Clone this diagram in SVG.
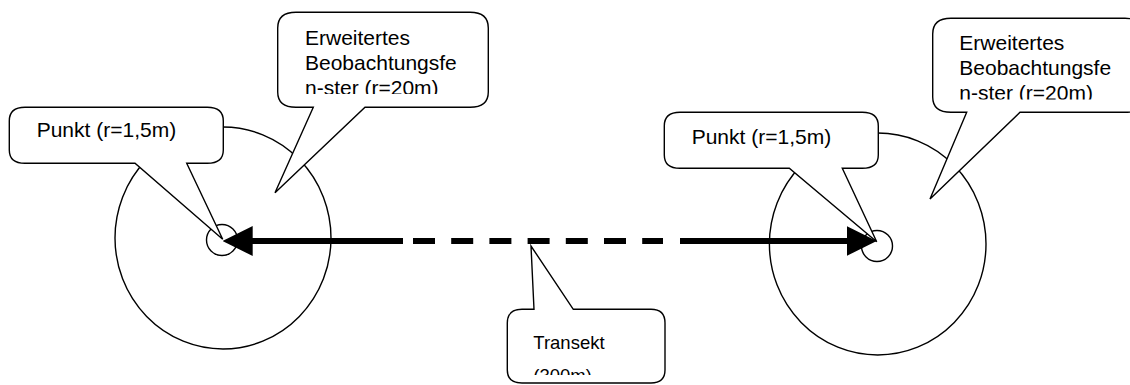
<svg xmlns="http://www.w3.org/2000/svg" width="1130" height="385" viewBox="0 0 1130 385">
  <style>
    .ring { fill: #ffffff; stroke: #000000; stroke-width: 1.4; }
    .callout { fill: #ffffff; stroke: #000000; stroke-width: 1.4; }
    .label { font-family: "Liberation Sans", Arial, sans-serif; font-size: 21px; fill: #000000; }
    .label-small { font-family: "Liberation Sans", Arial, sans-serif; font-size: 18.5px; fill: #000000; }
    .track { stroke: #000000; stroke-width: 6; fill: none; }
    .track-dash { stroke: #000000; stroke-width: 6; fill: none; stroke-dasharray: 22 16.2; }
  </style>
  <defs>
    <marker id="head" markerUnits="userSpaceOnUse" markerWidth="30" markerHeight="30" refX="20" refY="15" orient="auto">
      <path d="M0,0 L30,15 L0,30 Z" fill="#000000"/>
    </marker>
    <clipPath id="clipTextL"><rect x="280" y="14" width="205" height="80"/></clipPath>
    <clipPath id="clipTextR"><rect x="935" y="20" width="195" height="79.5"/></clipPath>
    <clipPath id="clipTextT"><rect x="510" y="311" width="152" height="64"/></clipPath>
  </defs>

  <!-- observation areas (r=20m) and points (r=1.5m) -->
  <g id="area-left">
    <ellipse class="ring" cx="223" cy="238" rx="108" ry="111"/>
    <circle class="ring" cx="222" cy="240" r="15.5"/>
  </g>
  <g id="area-right">
    <ellipse class="ring" cx="877.7" cy="244" rx="108.3" ry="111"/>
    <circle class="ring" cx="877" cy="246" r="15.5"/>
  </g>

  <!-- transect between both points -->
  <g id="connectors">
    <line class="track" x1="403" y1="241" x2="232.7" y2="241" marker-end="url(#head)"/>
    <line class="track-dash" x1="413" y1="241" x2="663" y2="241"/>
    <line class="track" x1="680" y1="241" x2="866.7" y2="241" marker-end="url(#head)"/>
  </g>

  <!-- callouts -->
  <g id="callout-punkt-left">
    <path class="callout" d="M25,107.3 H207.3 C217,107.3 223.3,111 223.3,121 V150 C223.3,159 217,163.3 207.3,163.3 H186.7 L222.7,239.3 L135,163.3 H25 C15,163.3 9.3,159 9.3,150 V121 C9.3,111 15,107.3 25,107.3 Z"/>
    <text class="label" x="36.7" y="137">Punkt (r=1,5m)</text>
  </g>

  <g id="callout-fenster-left">
    <path class="callout" d="M296,12.3 H470 C482,12.3 488.3,17 488.3,28 V92 C488.3,102 482,107.3 470,107.3 H365 L275,192.7 L313.3,107.3 H296 C284,107.3 277.7,102 277.7,92 V28 C277.7,17 284,12.3 296,12.3 Z"/>
    <g clip-path="url(#clipTextL)">
      <text class="label" x="305" y="45">Erweitertes</text>
      <text class="label" x="305" y="70">Beobachtungsfe</text>
      <text class="label" x="305" y="95">n-ster (r=20m)</text>
    </g>
  </g>

  <g id="callout-punkt-right">
    <path class="callout" d="M680,112.3 H862.3 C872,112.3 878.3,116 878.3,126 V155 C878.3,164 872,168.3 862.3,168.3 H842.3 L876.7,241.7 L789.3,168.3 H680 C670,168.3 664.3,164 664.3,155 V126 C664.3,116 670,112.3 680,112.3 Z"/>
    <text class="label" x="691.7" y="144">Punkt (r=1,5m)</text>
  </g>

  <g id="callout-fenster-right">
    <path class="callout" d="M951,18.3 H1125 C1137,18.3 1143.3,23 1143.3,34 V97 C1143.3,107 1137,112.3 1125,112.3 H1020 L930,199 L966.7,112.3 H951 C939,112.3 932.7,107 932.7,97 V34 C932.7,23 939,18.3 951,18.3 Z"/>
    <g clip-path="url(#clipTextR)">
      <text class="label" x="959.3" y="50">Erweitertes</text>
      <text class="label" x="959.3" y="75">Beobachtungsfe</text>
      <text class="label" x="959.3" y="100">n-ster (r=20m)</text>
    </g>
  </g>

  <g id="callout-transekt">
    <path class="callout" d="M522,309.3 H534 L531,246 L573.3,309.3 H651 C660,309.3 665,314 665,323 V370 C665,379 660,383 651,383 H522 C512,383 507.3,379 507.3,370 V323 C507.3,314 512,309.3 522,309.3 Z"/>
    <g clip-path="url(#clipTextT)">
      <text class="label-small" x="533.3" y="349.3">Transekt</text>
      <text class="label-small" x="533.3" y="381.5">(300m)</text>
    </g>
  </g>
</svg>
